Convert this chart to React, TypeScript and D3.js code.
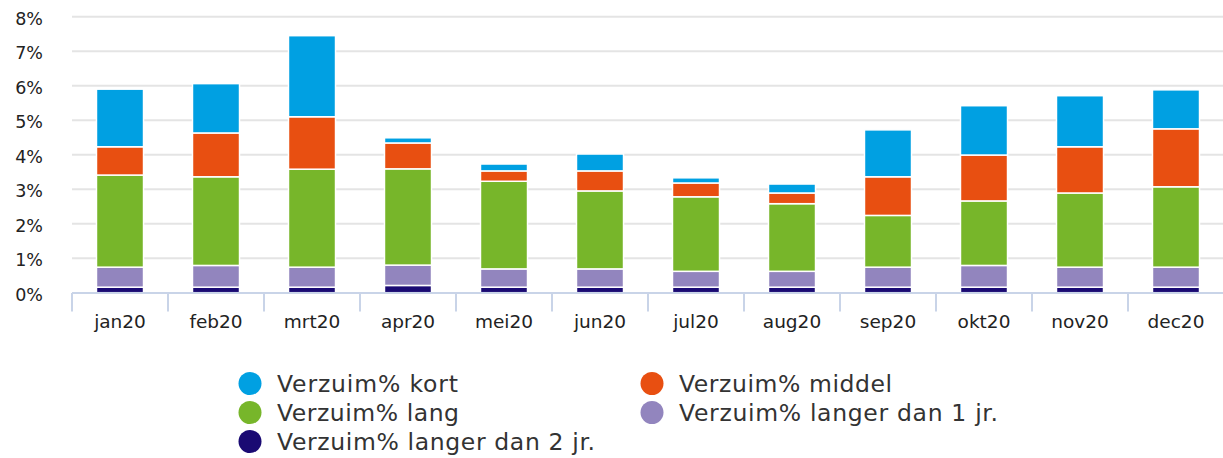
import { useEffect } from "react";
import * as d3 from "d3";

const months = ["jan20", "feb20", "mrt20", "apr20", "mei20", "jun20", "jul20", "aug20", "sep20", "okt20", "nov20", "dec20"];

// values in %, bottom to top
const langer2 = [0.16, 0.16, 0.16, 0.21, 0.16, 0.16, 0.16, 0.16, 0.16, 0.16, 0.16, 0.16];
const langer1 = [0.58, 0.63, 0.58, 0.59, 0.53, 0.53, 0.46, 0.46, 0.58, 0.63, 0.58, 0.58];
const lang = [2.67, 2.57, 2.84, 2.79, 2.54, 2.26, 2.16, 1.96, 1.5, 1.87, 2.15, 2.33];
const middel = [0.82, 1.27, 1.52, 0.75, 0.3, 0.58, 0.4, 0.31, 1.12, 1.33, 1.34, 1.68];
const kort = [1.67, 1.43, 2.35, 0.15, 0.2, 0.49, 0.15, 0.26, 1.36, 1.43, 1.48, 1.13];

const yTicks = [0, 1, 2, 3, 4, 5, 6, 7, 8];

const series = [
  { key: "langer2", label: "Verzuim% langer dan 2 jr.", values: langer2, color: "#1a0a73", len: 318 },
  { key: "langer1", label: "Verzuim% langer dan 1 jr.", values: langer1, color: "#9285be", len: 319 },
  { key: "lang", label: "Verzuim% lang", values: lang, color: "#77b62a", len: 182 },
  { key: "middel", label: "Verzuim% middel", values: middel, color: "#e84f11", len: 213 },
  { key: "kort", label: "Verzuim% kort", values: kort, color: "#00a0e2", len: 181 },
];

const legendOrder = ["kort", "middel", "lang", "langer1", "langer2"];

export default function App() {
  useEffect(() => {
    document.body.style.margin = "0";
  }, []);

  const W = 1223;
  const H = 458;
  const left = 72;
  const right = W + 1;
  const font = "'DejaVu Sans', Verdana, sans-serif";

  const x = d3.scaleBand<string>().domain(months).range([left, right]).paddingInner(0).paddingOuter(0);
  const y = d3.scaleLinear().domain([0, 8]).range([292.7, 16.7]);
  const barW = x.bandwidth() * 0.49;

  const rows = months.map((m, i) => {
    const r: any = { month: m };
    series.forEach((s) => (r[s.key] = s.values[i]));
    return r;
  });
  const stacked = d3.stack<any>().keys(series.map((s) => s.key))(rows);

  return (
    <svg width={W} height={H} style={{ display: "block", fontFamily: font }}>
      {/* grid */}
      {yTicks.slice(1).map((t) => (
        <line key={t} x1={left} x2={W} y1={y(t)} y2={y(t)} stroke="#e4e4e4" strokeWidth={2} />
      ))}
      {yTicks.map((t) => (
        <text key={t} x={43} y={y(t) + 3} textAnchor="end" dominantBaseline="middle" fontSize={17.5} fill="#222">
          {t}%
        </text>
      ))}

      {/* bars */}
      {stacked.map((layer, si) => (
        <g key={layer.key} fill={series[si].color}>
          {layer.map((d, i) => (
            <rect
              key={i}
              x={(x(months[i]) as number) + (x.bandwidth() - barW) / 2}
              y={y(d[1])}
              width={barW}
              height={y(d[0]) - y(d[1])}
              stroke="#fff"
              strokeWidth={1.5}
            />
          ))}
        </g>
      ))}

      {/* x axis */}
      <line x1={left} x2={W} y1={293} y2={293} stroke="#c9d4e8" strokeWidth={2} />
      {months.map((m) => (
        <line key={m} x1={(x(m) as number)} x2={(x(m) as number)} y1={293} y2={311.5} stroke="#c9d4e8" strokeWidth={2} />
      ))}
      {months.map((m) => (
        <text key={m} x={(x(m) as number) + x.bandwidth() / 2} y={328} textAnchor="middle" fontSize={18.5} fill="#222">
          {m}
        </text>
      ))}

      {/* legend */}
      {legendOrder.map((k, i) => {
        const s = series.find((d) => d.key === k)!;
        const col = i % 2;
        const row = Math.floor(i / 2);
        const cx = col === 0 ? 250 : 652;
        const cy = 383.5 + row * 29;
        return (
          <g key={k}>
            <circle cx={cx} cy={cy} r={11.5} fill={s.color} />
            <text
              x={cx + 27}
              y={cy}
              dominantBaseline="central"
              fontSize={23.5}
              fill="#333"
              textLength={s.len}
              lengthAdjust="spacing"
            >
              {s.label}
            </text>
          </g>
        );
      })}
    </svg>
  );
}
